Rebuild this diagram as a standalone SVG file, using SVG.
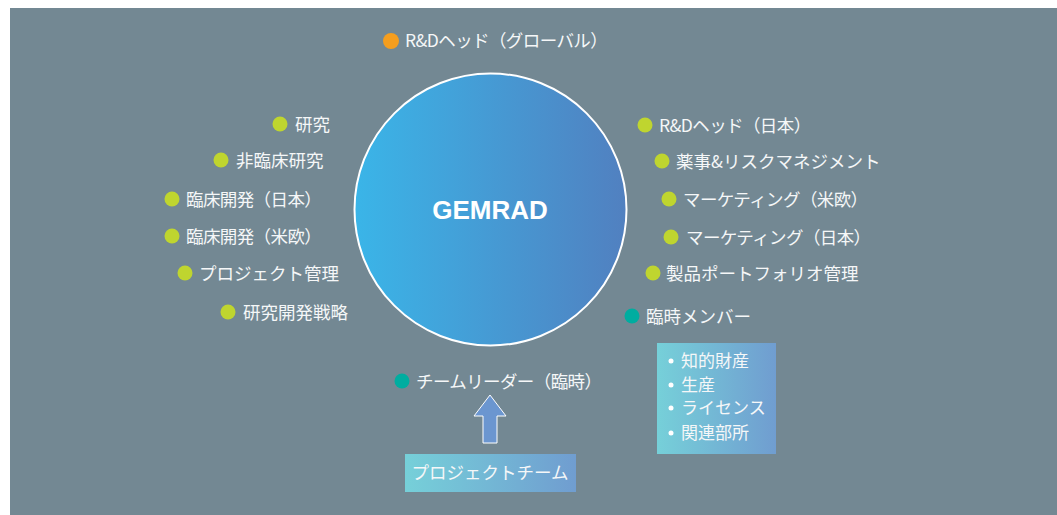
<svg xmlns="http://www.w3.org/2000/svg" width="1057" height="515" viewBox="0 0 1057 515">
<defs>
<linearGradient id="gCircle" x1="0" y1="0" x2="1" y2="0">
<stop offset="0" stop-color="#3ab5e8"/>
<stop offset="1" stop-color="#5180c0"/>
</linearGradient>
<linearGradient id="gBox" x1="0" y1="0" x2="1" y2="0">
<stop offset="0" stop-color="#76d0d9"/>
<stop offset="1" stop-color="#709dd0"/>
</linearGradient>
<style>
.t{font-family:"Noto Sans CJK JP","Noto Sans",sans-serif;font-size:17.5px;fill:#f5f7f8}
.p{letter-spacing:-0.6px}
.s{font-family:"Noto Sans CJK JP","Noto Sans",sans-serif;font-size:17px;fill:#f5f7f8}
.g{fill:#bfd52f}
.o{fill:#f59e1e}
.c{fill:#00ada0}
.w{fill:#ffffff}
</style>
</defs>
<rect x="10" y="8" width="1047" height="507" fill="#738893"/>

<g id="gemrad">
<circle cx="490.5" cy="209.5" r="136" fill="url(#gCircle)" stroke="#ffffff" stroke-width="2"/>
<text x="490" y="219" text-anchor="middle" font-family="Liberation Sans, Arial, sans-serif" font-weight="bold" font-size="26" fill="#ffffff">GEMRAD</text>
</g>

<g id="rd-head-global"><circle class="o" cx="391" cy="41" r="8"/><text class="t p" x="405" y="47">R&amp;Dヘッド（グローバル）</text></g>

<g id="research"><circle class="g" cx="280" cy="124" r="7.5"/><text class="t" x="295" y="131">研究</text></g>
<g id="nonclinical"><circle class="g" cx="221" cy="160" r="7.5"/><text class="t" x="236" y="167">非臨床研究</text></g>
<g id="clinical-jp"><circle class="g" cx="172" cy="199" r="7.5"/><text class="t p" x="186" y="206">臨床開発（日本）</text></g>
<g id="clinical-useu"><circle class="g" cx="172" cy="236" r="7.5"/><text class="t p" x="186" y="243">臨床開発（米欧）</text></g>
<g id="pm"><circle class="g" cx="185" cy="273" r="7.5"/><text class="t" x="199" y="280">プロジェクト管理</text></g>
<g id="rd-strategy"><circle class="g" cx="228" cy="312" r="7.5"/><text class="t" x="243" y="319">研究開発戦略</text></g>

<g id="rd-head-jp"><circle class="g" cx="645" cy="125" r="7.5"/><text class="t p" x="659" y="132">R&amp;Dヘッド（日本）</text></g>
<g id="regulatory"><circle class="g" cx="662" cy="161" r="7.5"/><text class="t" x="676" y="168">薬事&amp;リスクマネジメント</text></g>
<g id="marketing-useu"><circle class="g" cx="669" cy="199" r="7.5"/><text class="t p" x="683" y="206">マーケティング（米欧）</text></g>
<g id="marketing-jp"><circle class="g" cx="671" cy="237" r="7.5"/><text class="t p" x="686" y="244">マーケティング（日本）</text></g>
<g id="portfolio"><circle class="g" cx="653" cy="273" r="7.5"/><text class="t" x="666" y="280">製品ポートフォリオ管理</text></g>
<g id="temp-members"><circle class="c" cx="632" cy="316" r="7.5"/><text class="t" x="646" y="323">臨時メンバー</text></g>

<g id="temp-list">
<rect x="657" y="343" width="119" height="111" fill="url(#gBox)"/>
<circle class="w" cx="671" cy="361" r="2.5"/><text class="s" x="681" y="367">知的財産</text>
<circle class="w" cx="671" cy="385" r="2.5"/><text class="s" x="681" y="391">生産</text>
<circle class="w" cx="671" cy="408" r="2.5"/><text class="s" x="681" y="414">ライセンス</text>
<circle class="w" cx="671" cy="433" r="2.5"/><text class="s" x="681" y="439">関連部所</text>
</g>

<g id="team-leader"><circle class="c" cx="402" cy="381" r="7.5"/><text class="t p" x="416" y="388">チームリーダー（臨時）</text></g>

<g id="project-team">
<rect x="405" y="454" width="171" height="38" fill="url(#gBox)"/>
<text class="t" x="490" y="479" text-anchor="middle">プロジェクトチーム</text>
</g>

<g id="connectors">
<polygon points="490,395 506,416 497,416 497,443 483,443 483,416 474,416" fill="#6b96d0" stroke="#ffffff" stroke-width="1"/>
</g>
</svg>
